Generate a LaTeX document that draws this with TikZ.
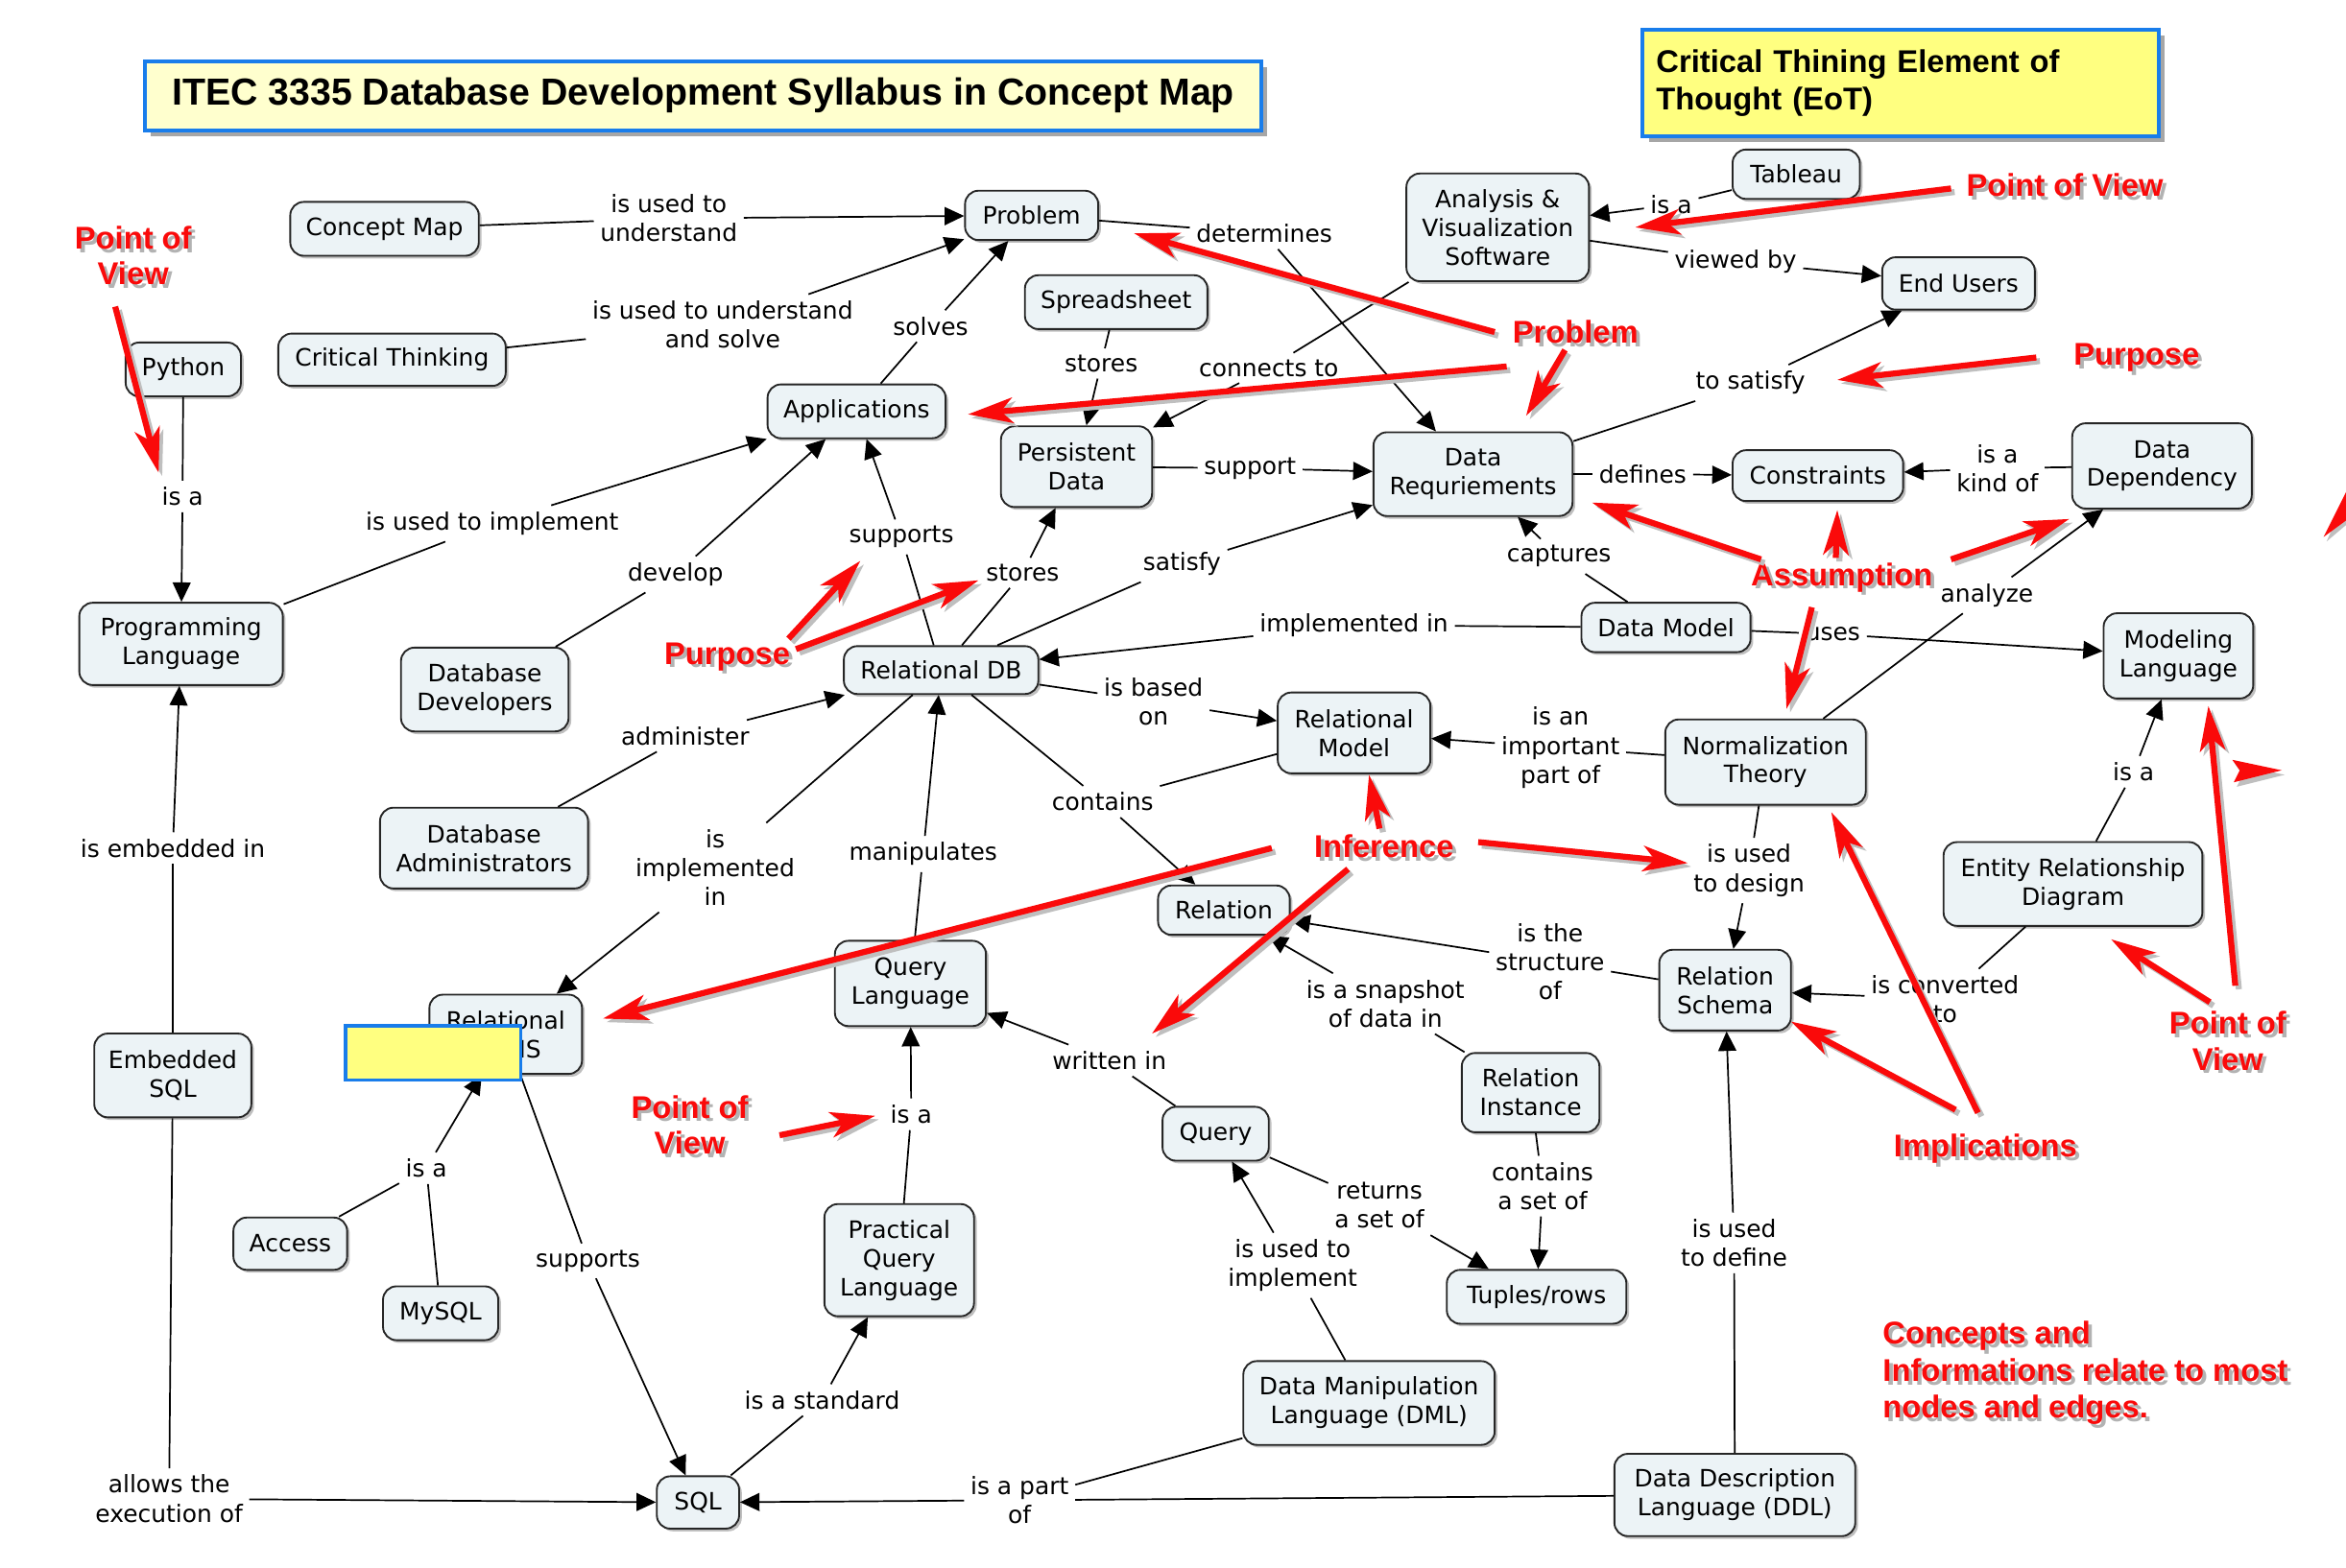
\documentclass[tikz,border=0pt]{standalone}
\usepackage{fontspec}
\usetikzlibrary{arrows.meta,shadows}
\newfontfamily\nodefont{DejaVu Sans}
\newfontfamily\arialfont{Liberation Sans}
\definecolor{nodefill}{RGB}{236,243,246}
\definecolor{eotblue}{RGB}{25,125,235}
\definecolor{titlefill}{RGB}{255,255,206}
\definecolor{eotfill}{RGB}{255,255,128}
\definecolor{annred}{RGB}{250,10,10}
\tikzset{
  concept/.style={draw=black!85, line width=0.6pt, fill=nodefill, rounded corners=4.5pt,
    font={\nodefont\fontsize{8pt}{9.6pt}\selectfont}, align=center, inner xsep=4pt, inner ysep=1pt,
    drop shadow={shadow xshift=0.9pt, shadow yshift=-0.9pt, opacity=0.25, fill=black}},
  link/.style={font={\nodefont\fontsize{8pt}{9.7pt}\selectfont}, align=center, inner sep=2pt},
  conn/.style={line width=0.55pt, draw=black},
  arr/.style={conn, -{Triangle[length=6.5pt,width=6pt]}},
  titlebox/.style={draw=eotblue, line width=1.3pt, fill=titlefill, inner sep=0pt,
    font={\arialfont\bfseries\fontsize{12.6pt}{15pt}\selectfont},
    drop shadow={shadow xshift=2pt, shadow yshift=-2pt, opacity=0.35, fill=black}},
  eotbox/.style={draw=eotblue, line width=1.3pt, fill=eotfill, inner xsep=4.5pt, inner ysep=0pt,
    font={\arialfont\bfseries\fontsize{10.5pt}{12.6pt}\selectfont}, align=left,
    drop shadow={shadow xshift=2pt, shadow yshift=-2pt, opacity=0.35, fill=black}},
  redlbl/.style={font={\arialfont\bfseries\fontsize{10.5pt}{12pt}\selectfont}, text=annred, align=center, inner sep=0pt},
  redshadow/.style={redlbl, text=black!30},
  redarr/.style={line width=2pt, color=annred, -{Stealth[length=15pt,width=8.5pt,inset=4pt]}},
  redarrsh/.style={redarr, color=black!25, transform canvas={shift={(1.2pt,-1.2pt)}}},
}
\newcommand\lnk[3]{\draw[conn] (#1) -- (#2); \draw[arr] (#2) -- (#3);}
\newcommand\rlab[4][]{\node[redshadow,#1,xshift=1.2pt,yshift=-1.2pt] at #3 {#4}; \node[redlbl,#1] (#2) at #3 {#4};}
\newcommand\rarr[2]{\draw[redarrsh] (#1) -- (#2); \draw[redarr] (#1) -- (#2);}
\begin{document}
\begin{tikzpicture}[x=0.5pt,y=-0.5pt]
\fill[white] (0,0) rectangle (1568,1048);
\useasboundingbox (0,0) rectangle (1568,1048);

% header boxes
\node[titlebox, minimum width=373pt, minimum height=23pt] (title) at (470,64) {ITEC 3335 Database Development Syllabus in Concept Map};
\node[eotbox, text width=163.5pt, minimum height=35.5pt] (eot) at (1270.5,55.5) {Critical Thining Element of\\Thought (EoT)};

% concepts
\node[concept, minimum width=63pt, minimum height=18pt] (cmap) at (257,153) {Concept Map};
\node[concept, minimum width=44.5pt, minimum height=16.5pt] (problem) at (689.5,144) {Problem};
\node[concept, minimum width=76pt, minimum height=17.5pt] (ct) at (262,240.5) {Critical Thinking};
\node[concept, minimum width=38.5pt, minimum height=18pt] (python) at (122.5,247) {Python};
\node[concept, minimum width=61pt, minimum height=18pt] (spread) at (746,202) {Spreadsheet};
\node[concept, minimum width=59.5pt, minimum height=18pt] (apps) at (572.5,275) {Applications};
\node[concept, minimum width=50.5pt, minimum height=27pt] (pdata) at (719.5,312) {Persistent\\Data};
\node[concept, minimum width=61pt, minimum height=36pt] (avs) at (1001,152) {Analysis \&\\Visualization\\Software};
\node[concept, minimum width=42.5pt, minimum height=16.5pt] (tableau) at (1200.5,116.5) {Tableau};
\node[concept, minimum width=51pt, minimum height=17.5pt] (endusers) at (1309,189.5) {End Users};
\node[concept, minimum width=66.5pt, minimum height=28pt] (datareq) at (984.5,317) {Data\\Requriements};
\node[concept, minimum width=57pt, minimum height=17pt] (constr) at (1215,318) {Constraints};
\node[concept, minimum width=60pt, minimum height=28.5pt] (datadep) at (1445,311.5) {Data\\Dependency};
\node[concept, minimum width=68pt, minimum height=27.5pt] (proglang) at (121,430.5) {Programming\\Language};
\node[concept, minimum width=56pt, minimum height=28pt] (dbdev) at (324,461) {Database\\Developers};
\node[concept, minimum width=65pt, minimum height=16pt] (reldb) at (629,448) {Relational DB};
\node[concept, minimum width=56.5pt, minimum height=16.5pt] (datamodel) at (1113.5,419.5) {Data Model};
\node[concept, minimum width=50pt, minimum height=28.5pt] (modlang) at (1456,438.5) {Modeling\\Language};
\node[concept, minimum width=51pt, minimum height=27pt] (relmodel) at (905,490) {Relational\\Model};
\node[concept, minimum width=67pt, minimum height=28.5pt] (normth) at (1180,509.5) {Normalization\\Theory};
\node[concept, minimum width=69.5pt, minimum height=27pt] (dbadmin) at (323.5,567) {Database\\Administrators};
\node[concept, minimum width=86.5pt, minimum height=28pt] (erd) at (1385.5,591) {Entity Relationship\\Diagram};
\node[concept, minimum width=44pt, minimum height=16.5pt] (relation) at (818,608.5) {Relation};
\node[concept, minimum width=51pt, minimum height=26.5pt] (reldbms) at (338,691.5) {Relational\\DBMS};
\node[concept, minimum width=50.5pt, minimum height=28.5pt] (querylang) at (608.5,657.5) {Query\\Language};
\node[concept, minimum width=44pt, minimum height=27pt] (relschema) at (1153,662) {Relation\\Schema};
\node[concept, minimum width=52.5pt, minimum height=28pt] (embsql) at (115.5,719) {Embedded\\SQL};
\node[concept, minimum width=46pt, minimum height=26.5pt] (relinst) at (1023,730.5) {Relation\\Instance};
\node[concept, minimum width=35.5pt, minimum height=18pt] (query) at (812.5,758) {Query};
\node[concept, minimum width=38pt, minimum height=17.5pt] (access) at (194,831.5) {Access};
\node[concept, minimum width=38.5pt, minimum height=18pt] (mysql) at (294.5,878) {MySQL};
\node[concept, minimum width=50pt, minimum height=37.5pt] (pql) at (601,842.5) {Practical\\Query\\Language};
\node[concept, minimum width=60pt, minimum height=18pt] (tuples) at (1027,867) {Tuples/rows};
\node[concept, minimum width=84pt, minimum height=28pt] (dml) at (915,938) {Data Manipulation\\Language (DML)};
\node[concept, minimum width=27.5pt, minimum height=17.5pt] (sql) at (466.5,1004.5) {SQL};
\node[concept, minimum width=80.5pt, minimum height=27.5pt] (ddl) at (1159.5,999.5) {Data Description\\Language (DDL)};

% linking phrases
\node[link] (l1) at (447,146) {is used to\\understand};
\node[link] (l2) at (483,217) {is used to understand\\and solve};
\node[link] (l3) at (622,218) {solves};
\node[link] (l4) at (845,156) {determines};
\node[link] (l5) at (736,243) {stores};
\node[link] (l6) at (848,246) {connects to};
\node[link] (l7) at (122,332) {is a};
\node[link] (l8) at (329,350) {is used to implement};
\node[link] (l9) at (451.5,384) {develop};
\node[link] (l10) at (602.5,359) {supports};
\node[link] (l11) at (683.5,383) {stores};
\node[link] (l12) at (790,377) {satisfy};
\node[link] (l13) at (835.5,313) {support};
\node[link] (l14) at (1117,137) {is a};
\node[link] (l15) at (1160,175) {viewed by};
\node[link] (l16) at (1170,256) {to satisfy};
\node[link] (l17) at (1098,317) {defines};
\node[link] (l18) at (1335,313) {is a\\kind of};
\node[link] (l19) at (1042,372) {captures};
\node[link] (l20) at (905,418) {implemented in};
\node[link] (l21) at (1225,424) {uses};
\node[link] (l22) at (1328,398) {analyze};
\node[link] (l23) at (771,469) {is based\\on};
\node[link] (l24) at (1043,500) {is an\\important\\part of};
\node[link] (l25) at (458,492) {administer};
\node[link] (l26) at (737,536) {contains};
\node[link] (l27) at (478,580) {is\\implemented\\in};
\node[link] (l28) at (617,571) {manipulates};
\node[link] (l29) at (1169,582) {is used\\to design};
\node[link] (l30) at (1036,643) {is the\\structure\\of};
\node[link] (l31) at (926,671) {is a snapshot\\of data in};
\node[link] (l32) at (1300,668) {is converted\\to};
\node[link] (l33) at (1426,516) {is a};
\node[link] (l34) at (115.5,567) {is embedded in};
\node[link] (l35) at (113,1002) {allows the\\execution of};
\node[link] (l36) at (285,781) {is a};
\node[link] (l37) at (393,843) {supports};
\node[link] (l38) at (609,745) {is a};
\node[link] (l39) at (741.5,709) {written in};
\node[link] (l40) at (549.5,936) {is a standard};
\node[link] (l41) at (922,806) {returns\\a set of};
\node[link] (l42) at (1031,793) {contains\\a set of};
\node[link] (l43) at (864,846) {is used to\\implement};
\node[link] (l44) at (681.5,1003) {is a part\\of};
\node[link] (l45) at (1159,831) {is used\\to define};

% connectors
\lnk{cmap}{l1}{problem}
\lnk{ct}{l2}{problem}
\lnk{apps}{l3}{problem}
\lnk{problem}{l4}{datareq}
\lnk{spread}{l5}{pdata}
\lnk{avs}{l6}{pdata}
\lnk{python}{l7}{proglang}
\lnk{proglang}{l8}{apps}
\lnk{dbdev}{l9}{apps}
\lnk{reldb}{l10}{apps}
\lnk{reldb}{l11}{pdata}
\lnk{reldb}{l12}{datareq}
\lnk{pdata}{l13}{datareq}
\lnk{tableau}{l14}{avs}
\lnk{avs}{l15}{endusers}
\lnk{datareq}{l16}{endusers}
\lnk{datareq}{l17}{constr}
\lnk{datadep}{l18}{constr}
\lnk{datamodel}{l19}{datareq}
\lnk{datamodel}{l20}{reldb}
\lnk{datamodel}{l21}{modlang}
\lnk{normth}{l22}{datadep}
\lnk{reldb}{l23}{relmodel}
\lnk{normth}{l24}{relmodel}
\lnk{dbadmin}{l25}{reldb}
\lnk{reldb}{l26}{relation}
\draw[conn] (relmodel) -- (l26);
\lnk{reldb}{l27}{reldbms}
\lnk{querylang}{l28}{reldb}
\lnk{normth}{l29}{relschema}
\lnk{relschema}{l30}{relation}
\lnk{relinst}{l31}{relation}
\lnk{erd}{l32}{relschema}
\lnk{erd}{l33}{modlang}
\lnk{embsql}{l34}{proglang}
\lnk{embsql}{l35}{sql}
\lnk{access}{l36}{reldbms}
\draw[conn] (mysql) -- (l36);
\lnk{reldbms}{l37}{sql}
\lnk{pql}{l38}{querylang}
\lnk{query}{l39}{querylang}
\lnk{sql}{l40}{pql}
\lnk{query}{l41}{tuples}
\lnk{relinst}{l42}{tuples}
\lnk{dml}{l43}{query}
\lnk{dml}{l44}{sql}
\draw[conn] (ddl) -- (l44);
\lnk{ddl}{l45}{relschema}

% yellow box over Relational DBMS
\node[draw=eotblue, line width=1.2pt, fill=eotfill, minimum width=58.5pt, minimum height=18pt, inner sep=0pt] (ybox) at (289.5,704) {};

% red annotation labels
\rlab{pov1}{(89,171)}{Point of\\View}
\rlab{pov2}{(1380,124)}{Point of View}
\rlab{probl}{(1053,222)}{Problem}
\rlab{purp1}{(1428,239)}{Purpose}
\rlab{purp2}{(486,439)}{Purpose}
\rlab{assum}{(1231,386)}{Assumption}
\rlab{infer}{(925,566)}{Inference}
\rlab{implic}{(1327,768)}{Implications}
\rlab{pov3}{(1489,696)}{Point of\\View}
\rlab{pov4}{(461,752)}{Point of\\View}
\rlab[anchor=west,align=left,font={\arialfont\bfseries\fontsize{10.5pt}{12.3pt}\selectfont}]{concnote}{(1258,918)}{Concepts and\\Informations relate to most\\nodes and edges.}

% red annotation arrows
\coordinate (a1s) at (77,205);    \coordinate (a1t) at (106,316);
\coordinate (a2s) at (1304,126);  \coordinate (a2t) at (1093,152);
\coordinate (a3s) at (999,222);   \coordinate (a3t) at (758,156);
\coordinate (a4s) at (1007,245);  \coordinate (a4t) at (647,277);
\coordinate (a5s) at (1046,234);  \coordinate (a5t) at (1020,278);
\coordinate (a6s) at (1361,239);  \coordinate (a6t) at (1228,254);
\coordinate (a7s) at (527,427);   \coordinate (a7t) at (575,375);
\coordinate (a8s) at (532,434);   \coordinate (a8t) at (654,388);
\coordinate (a9s) at (1177,374);  \coordinate (a9t) at (1064,336);
\coordinate (a10s) at (1227,373); \coordinate (a10t) at (1228,341);
\coordinate (a11s) at (1304,374); \coordinate (a11t) at (1383,347);
\coordinate (a12s) at (1211,406); \coordinate (a12t) at (1194,474);
\coordinate (a13s) at (922,554);  \coordinate (a13t) at (915,518);
\coordinate (a14s) at (988,563);  \coordinate (a14t) at (1128,577);
\coordinate (a15s) at (850,567);  \coordinate (a15t) at (403,681);
\coordinate (a16s) at (901,581);  \coordinate (a16t) at (770,691);
\coordinate (a17s) at (1307,742); \coordinate (a17t) at (1197,683);
\coordinate (a18s) at (1322,744); \coordinate (a18t) at (1224,543);
\coordinate (a19s) at (1477,670); \coordinate (a19t) at (1411,628);
\coordinate (a20s) at (1494,659); \coordinate (a20t) at (1476,472);
\coordinate (a21s) at (521,759);  \coordinate (a21t) at (585,746);
\rarr{a1s}{a1t}
\rarr{a2s}{a2t}
\rarr{a3s}{a3t}
\rarr{a4s}{a4t}
\rarr{a5s}{a5t}
\rarr{a6s}{a6t}
\rarr{a7s}{a7t}
\rarr{a8s}{a8t}
\rarr{a9s}{a9t}
\rarr{a10s}{a10t}
\rarr{a11s}{a11t}
\rarr{a12s}{a12t}
\rarr{a13s}{a13t}
\rarr{a14s}{a14t}
\rarr{a15s}{a15t}
\rarr{a16s}{a16t}
\rarr{a17s}{a17t}
\rarr{a18s}{a18t}
\rarr{a19s}{a19t}
\rarr{a20s}{a20t}
\rarr{a21s}{a21t}

% stray arrowheads at the right edge
\fill[black!25] (1555,362) -- (1568,333) -- (1568,351) -- cycle;
\fill[annred] (1553,359) -- (1568,329) -- (1568,348) -- cycle;
\fill[black!25] (1494,511) -- (1527,518) -- (1495,526) -- (1499,518) -- cycle;
\fill[annred] (1492,508) -- (1525,515) -- (1493,523) -- (1497,515) -- cycle;
\end{tikzpicture}
\end{document}
